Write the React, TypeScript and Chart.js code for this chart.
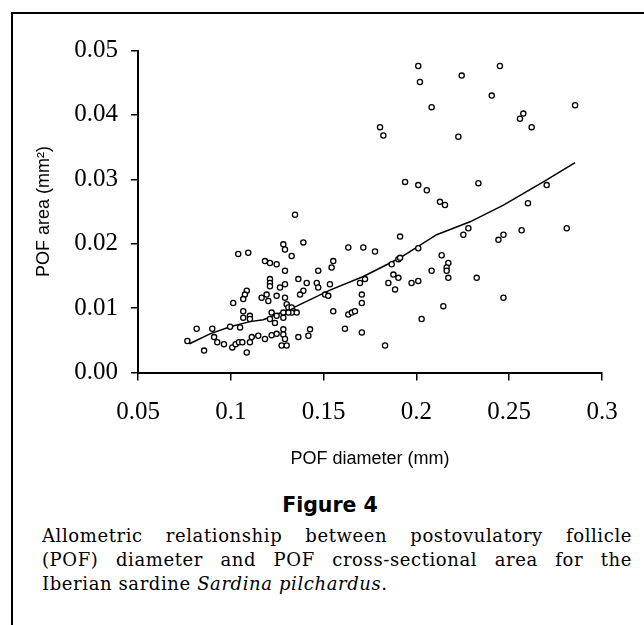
import React, { useEffect, useRef } from "react";
import { Chart, registerables } from "chart.js";

Chart.register(...registerables);

// POF diameter (mm) of each follicle
const diameter = [
  0.2010, 0.2019, 0.2244, 0.2450, 0.2082, 0.2406, 0.2855, 0.2576, 0.2558, 0.2621,
  0.1804, 0.1822, 0.2226, 0.1939, 0.2010, 0.2056, 0.2334, 0.2702,
  0.2127, 0.2154, 0.2601, 0.2280, 0.2253, 0.2469, 0.2442, 0.2567, 0.2810, 0.1912,
  0.1777, 0.2010, 0.2136, 0.2172, 0.2163, 0.2163, 0.2172, 0.2082, 0.2010, 0.1974,
  0.1867, 0.1903, 0.1912, 0.1876, 0.1903, 0.1849, 0.1885, 0.2325, 0.2469, 0.2145,
  0.2028, 0.1831,
  0.1346, 0.1283, 0.1292, 0.1391, 0.1328, 0.1040, 0.1094, 0.1633, 0.1714, 0.1184,
  0.1211, 0.1247, 0.1292, 0.1552, 0.1543, 0.1471, 0.1211, 0.1211, 0.1211, 0.1292,
  0.1265, 0.1364, 0.1409, 0.1463, 0.1471, 0.1534, 0.1391, 0.1373, 0.1508, 0.1525,
  0.1086, 0.1076, 0.1067, 0.1013, 0.1166, 0.1193, 0.1247, 0.1202, 0.1292, 0.1301,
  0.1310, 0.1328, 0.1337, 0.1355, 0.1328, 0.1310, 0.1283, 0.1220, 0.1247, 0.1283,
  0.1211, 0.1238, 0.1067, 0.1067, 0.1103, 0.1103, 0.1050, 0.0996, 0.1552, 0.1427,
  0.1418, 0.1364, 0.1283, 0.1283, 0.1292, 0.1274, 0.1301, 0.1247, 0.1220, 0.1184,
  0.1148, 0.1113, 0.1103, 0.1086, 0.1615, 0.1633, 0.1652, 0.1669, 0.1706, 0.1706,
  0.1696, 0.1723, 0.1706,
  0.0816, 0.0900, 0.0766, 0.0856, 0.0910, 0.0927, 0.0963, 0.1008, 0.1026, 0.1044,
  0.1062,
];

// POF cross-sectional area (mm²) of each follicle
const area = [
  0.0476, 0.0451, 0.0461, 0.0476, 0.0412, 0.0430, 0.0415, 0.0402, 0.0394, 0.0381,
  0.0381, 0.0368, 0.0366, 0.0296, 0.0291, 0.0283, 0.0294, 0.0291,
  0.0265, 0.0260, 0.0263, 0.0224, 0.0214, 0.0214, 0.0206, 0.0221, 0.0224, 0.0211,
  0.0188, 0.0193, 0.0182, 0.0170, 0.0163, 0.0158, 0.0147, 0.0158, 0.0142, 0.0139,
  0.0168, 0.0176, 0.0178, 0.0152, 0.0147, 0.0139, 0.0129, 0.0147, 0.0116, 0.0103,
  0.0083, 0.0042,
  0.0245, 0.0199, 0.0191, 0.0202, 0.0181, 0.0184, 0.0186, 0.0194, 0.0194, 0.0173,
  0.0170, 0.0168, 0.0158, 0.0173, 0.0163, 0.0158, 0.0145, 0.0139, 0.0134, 0.0137,
  0.0132, 0.0145, 0.0139, 0.0139, 0.0132, 0.0137, 0.0127, 0.0121, 0.0121, 0.0119,
  0.0127, 0.0121, 0.0114, 0.0108, 0.0116, 0.0121, 0.0119, 0.0111, 0.0116, 0.0106,
  0.0101, 0.0101, 0.0095, 0.0093, 0.0093, 0.0093, 0.0093, 0.0093, 0.0088, 0.0085,
  0.0083, 0.0077, 0.0095, 0.0085, 0.0088, 0.0083, 0.0070, 0.0071, 0.0095, 0.0067,
  0.0057, 0.0055, 0.0067, 0.0059, 0.0052, 0.0042, 0.0042, 0.0060, 0.0058, 0.0052,
  0.0057, 0.0055, 0.0047, 0.0031, 0.0068, 0.0090, 0.0093, 0.0095, 0.0121, 0.0108,
  0.0139, 0.0145, 0.0062,
  0.0068, 0.0068, 0.0049, 0.0034, 0.0055, 0.0047, 0.0044, 0.0039, 0.0044, 0.0047,
  0.0047,
];

// Fitted allometric curve
const fitDiameter = [
  0.0758, 0.0780, 0.0888, 0.0996, 0.1103, 0.1175, 0.1355, 0.1534, 0.1714, 0.1858,
  0.1929, 0.2109, 0.2289, 0.2469, 0.2702, 0.2855,
];
const fitArea = [
  0.0049, 0.0045, 0.0060, 0.0071, 0.0079, 0.0082, 0.0103, 0.0128, 0.0149, 0.0170,
  0.0181, 0.0214, 0.0234, 0.0260, 0.0299, 0.0326,
];

const xTicks = [0.05, 0.1, 0.15, 0.2, 0.25, 0.3];
const xTickLabels = ["0.05", "0.1", "0.15", "0.2", "0.25", "0.3"];
const yTicks = [0, 0.01, 0.02, 0.03, 0.04, 0.05];
const yTickLabels = ["0.00", "0.01", "0.02", "0.03", "0.04", "0.05"];

const xTitle = "POF diameter (mm)";
const yTitle = "POF area (mm²)";
const figureLabel = "Figure 4";
const captionLine1 = "Allometric relationship between postovulatory follicle";
const captionLine2 = "(POF) diameter and POF cross-sectional area for the";
const captionLine3a = "Iberian sardine ";
const captionLine3b = "Sardina pilchardus";
const captionLine3c = ".";

const SERIF = "'Liberation Serif', 'Times New Roman', serif";
const SANS = "'Liberation Sans', Arial, sans-serif";
const CAPTION_FONT = "'DejaVu Serif', serif";

export default function App() {
  const canvasRef = useRef<HTMLCanvasElement>(null);

  useEffect(() => {
    const canvas = canvasRef.current;
    if (!canvas) return;
    const chart = new Chart(canvas, {
      type: "scatter",
      data: {
        datasets: [
          {
            type: "scatter",
            data: diameter.map((x, i) => ({ x, y: area[i] })),
            pointRadius: 2.6,
            pointHoverRadius: 2.6,
            pointBorderWidth: 1.3,
            borderColor: "#000",
            backgroundColor: "#fff",
            order: 1,
          },
          {
            type: "line",
            data: fitDiameter.map((x, i) => ({ x, y: fitArea[i] })),
            borderColor: "#000",
            borderWidth: 1.5,
            pointRadius: 0,
            showLine: true,
            fill: false,
            tension: 0,
            order: 2,
          },
        ] as any,
      },
      options: {
        responsive: false,
        animation: false,
        events: [],
        layout: { padding: { top: 50.5, right: 42, bottom: 0, left: 0 } },
        plugins: { legend: { display: false }, tooltip: { enabled: false } },
        scales: {
          x: {
            type: "linear",
            min: 0.05,
            max: 0.3,
            afterBuildTicks: (s: any) => {
              s.ticks = xTicks.map((v) => ({ value: v }));
            },
            afterFit: (s: any) => {
              s.height = 107.5;
            },
            ticks: {
              callback: (_v: any, i: number) => xTickLabels[i],
              font: { family: SERIF, size: 25 },
              color: "#000",
              padding: 17,
              maxRotation: 0,
              autoSkip: false,
            },
            grid: {
              drawOnChartArea: false,
              drawTicks: true,
              tickLength: 8,
              color: "#000",
              lineWidth: 1.5,
            },
            border: { display: true, color: "#000", width: 2 },
            title: {
              display: true,
              text: xTitle,
              color: "#000",
              font: { family: SANS, size: 18 },
              padding: { top: 0, bottom: 10.6 },
            },
          },
          y: {
            type: "linear",
            min: 0,
            max: 0.05,
            afterBuildTicks: (s: any) => {
              s.ticks = yTicks.map((v) => ({ value: v }));
            },
            afterFit: (s: any) => {
              s.width = 138;
            },
            ticks: {
              callback: (_v: any, i: number) => yTickLabels[i],
              font: { family: SERIF, size: 25 },
              color: "#000",
              padding: 13,
              autoSkip: false,
            },
            grid: {
              drawOnChartArea: false,
              drawTicks: true,
              tickLength: 7,
              color: "#000",
              lineWidth: 1.5,
            },
            border: { display: true, color: "#000", width: 2 },
            title: {
              display: true,
              text: yTitle,
              color: "#000",
              font: { family: SANS, size: 18 },
              padding: { top: 33, bottom: 0 },
            },
          },
        },
      } as any,
    });
    return () => chart.destroy();
  }, []);

  const lineStyle: React.CSSProperties = {
    position: "absolute",
    left: 42,
    width: 590,
    height: 24,
    lineHeight: "24px",
    fontFamily: CAPTION_FONT,
    fontSize: 18,
    letterSpacing: 0.6,
    color: "#000",
    whiteSpace: "nowrap",
    textAlign: "justify",
    textAlignLast: "justify" as any,
  };

  return (
    <div
      style={{
        position: "absolute",
        left: 0,
        top: 0,
        width: 644,
        height: 625,
        overflow: "hidden",
        background: "#fff",
      }}
    >
      <div
        style={{
          position: "absolute",
          left: 10.5,
          top: 11.5,
          right: -10,
          bottom: -10,
          borderTop: "2px solid #000",
          borderLeft: "2.5px solid #000",
        }}
      />
      <canvas
        ref={canvasRef}
        width={644}
        height={480}
        style={{ position: "absolute", left: 0, top: 0, width: 644, height: 480 }}
      />
      <div
        style={{
          position: "absolute",
          left: 180,
          width: 300,
          top: 492.6,
          height: 24,
          lineHeight: "24px",
          textAlign: "center",
          fontFamily: "'DejaVu Sans', sans-serif",
          fontWeight: "bold",
          fontSize: 20.5,
          color: "#000",
        }}
      >
        {figureLabel}
      </div>
      <div style={{ ...lineStyle, top: 523.5 }}>{captionLine1}</div>
      <div style={{ ...lineStyle, top: 547.5 }}>{captionLine2}</div>
      <div style={{ ...lineStyle, top: 571.5, textAlign: "left", textAlignLast: "left" as any }}>
        {captionLine3a}
        <i>{captionLine3b}</i>
        {captionLine3c}
      </div>
    </div>
  );
}
